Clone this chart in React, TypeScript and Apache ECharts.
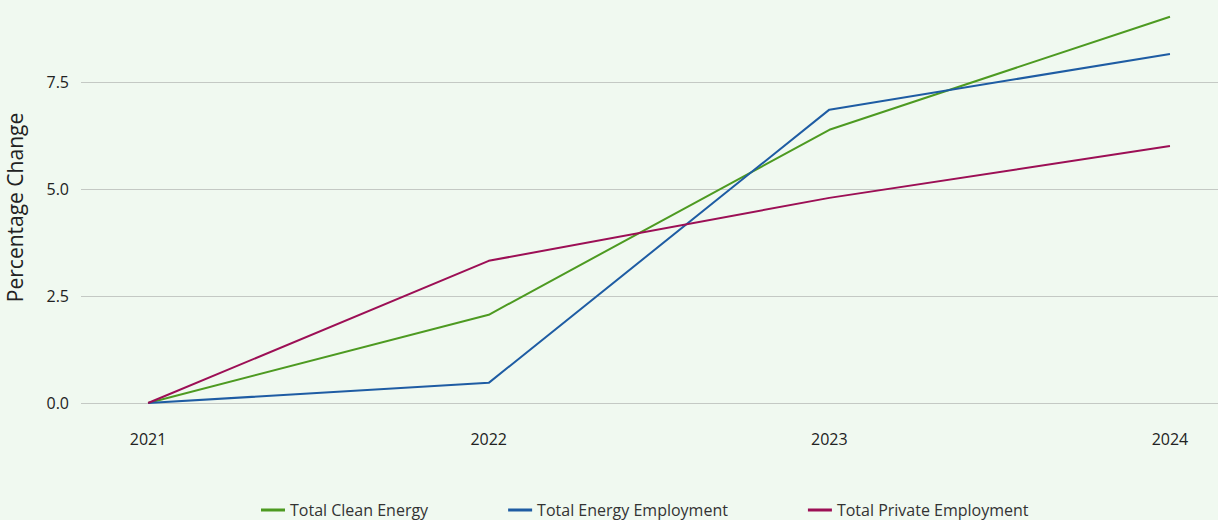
import React, { useEffect, useRef } from "react";
import * as echarts from "echarts";

const years = [2021, 2022, 2023, 2024];
const cleanEnergy = [0, 2.06, 6.38, 9.02];
const energyEmployment = [0, 0.47, 6.85, 8.15];
const privateEmployment = [0, 3.32, 4.79, 6.0];
const yTicks = [0, 2.5, 5, 7.5];

const FONT = "'Open Sans', sans-serif";

export default function App() {
  const ref = useRef<HTMLDivElement>(null);
  useEffect(() => {
    document.body.style.margin = "0";
    const chart = echarts.init(ref.current!, null, { renderer: "svg" });
    const mk = (name: string, vals: number[], color: string) => ({
      name,
      type: "line",
      data: years.map((y, i) => [y, vals[i]]),
      symbol: "none",
      lineStyle: { width: 2, color },
      itemStyle: { color },
    });
    chart.setOption({
      animation: false,
      backgroundColor: "#f0f9f0",
      textStyle: { fontFamily: FONT },
      grid: { left: 81, right: 0, top: 12, bottom: 117, outerBoundsMode: "none", containLabel: false },
      legend: {
        bottom: -3,
        left: 256,
        itemWidth: 24,
        itemHeight: 3,
        itemGap: 80,
        icon: "rect",
        textStyle: { fontFamily: FONT, fontSize: 16, color: "#333" },
        data: ["Total Clean Energy", "Total Energy Employment", "Total Private Employment"],
      },
      xAxis: {
        type: "value",
        min: 2020.803,
        max: 2024.141,
        axisLine: { show: false },
        axisTick: { show: false },
        splitLine: { show: false },
        axisLabel: {
          customValues: years,
          margin: 28,
          fontSize: 16,
          color: "#222",
          fontFamily: FONT,
          formatter: (v: number) => String(Math.round(v)),
        },
      },
      yAxis: {
        type: "value",
        min: 0,
        max: 9.13,
        interval: 2.5,
        name: "Percentage Change",
        nameLocation: "middle",
        nameGap: 56,
        nameTextStyle: { fontSize: 21, color: "#222", fontFamily: FONT },
        axisLine: { show: false },
        axisTick: { show: false },
        axisLabel: {
          customValues: yTicks,
          margin: 12,
          fontSize: 16,
          color: "#222",
          fontFamily: FONT,
          formatter: (v: number) => v.toFixed(1),
        },
        splitLine: { show: true, showMaxLine: false, lineStyle: { color: "#c4c9c4", width: 1 } },
      },
      series: [
        mk("Total Clean Energy", cleanEnergy, "#4d9a21"),
        mk("Total Energy Employment", energyEmployment, "#1e5ca3"),
        mk("Total Private Employment", privateEmployment, "#9c0f55"),
      ],
    });
    return () => chart.dispose();
  }, []);
  return <div ref={ref} style={{ width: 1218, height: 520 }} />;
}
